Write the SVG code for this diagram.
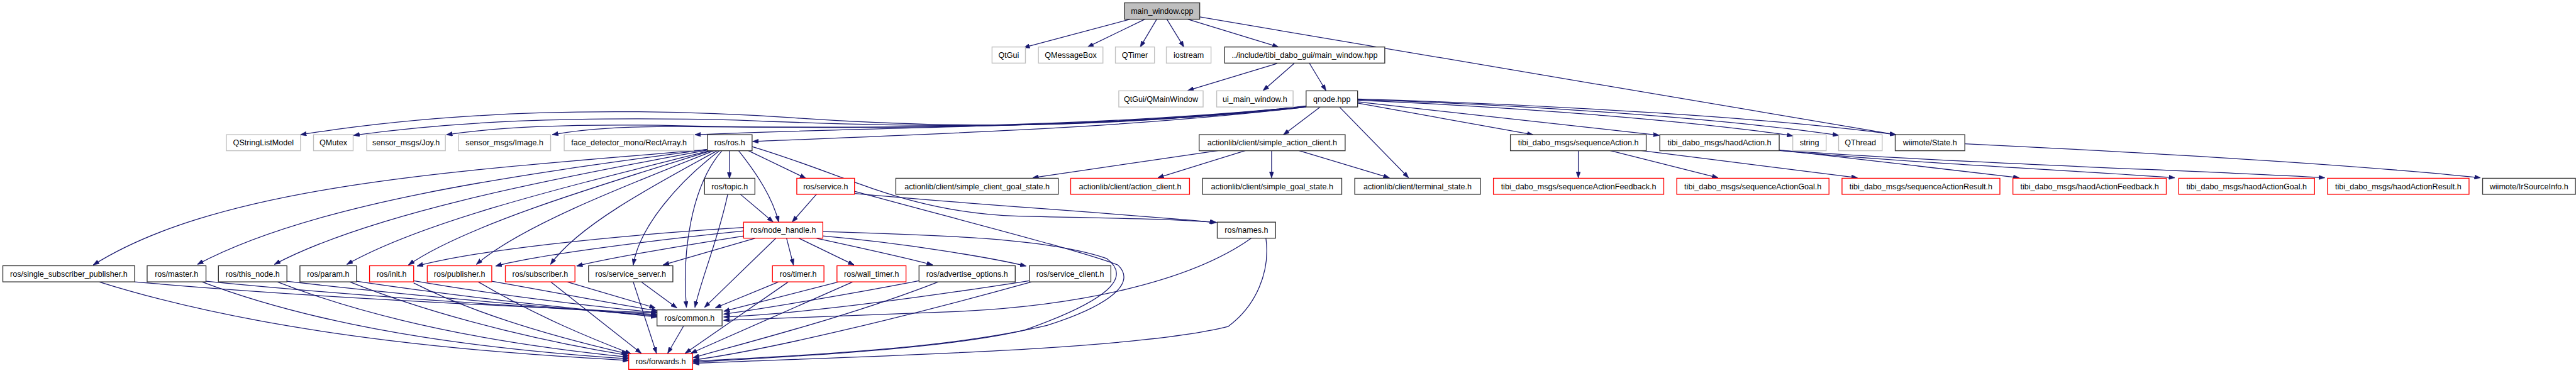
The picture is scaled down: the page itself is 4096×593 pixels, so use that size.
<svg xmlns="http://www.w3.org/2000/svg" width="4096" height="593" viewBox="0 0 4096 593">
<style>
rect{fill:#fff;stroke:#333;stroke-width:1.5}
.g rect{stroke:#bfbfbf}
.r rect{stroke:#ff0000}
.root rect{fill:#bfbfbf}
text{font-family:"Liberation Sans",Arial,sans-serif;font-size:14px;text-anchor:middle;fill:#000}
#edges path{fill:none;stroke:#191970;stroke-width:1.4;marker-end:url(#ah)}
</style>
<defs>
<marker id="ah" markerUnits="userSpaceOnUse" viewBox="0 0 11 8" markerWidth="11" markerHeight="8" refX="10.5" refY="4" orient="auto">
<path d="M0,0 L11,4 L0,8 z" fill="#191970" stroke="#191970" stroke-width="0.5"/>
</marker>
</defs>
<rect x="0" y="0" width="4096" height="593" style="fill:#fff;stroke:none"/>
<g transform="scale(0.89982)">
<g id="edges">
<path d="M1997,34 L1809,84"/>
<path d="M2023,34 L1922,83"/>
<path d="M2044,34 L2015,83"/>
<path d="M2062,34 L2092,83"/>
<path d="M2099,34 L2259,83"/>
<path d="M2120,30 L3350,238"/>
<path d="M2257,112 L2099,160"/>
<path d="M2287,112 L2232,160"/>
<path d="M2314,112 L2343,160"/>
<path d="M2333,189 L2268,238"/>
<path d="M2367,189 L2489,314"/>
<path d="M2399,182 L2709,238"/>
<path d="M2399,180 L2932,239"/>
<path d="M2399,177 C2700,190 3000,215 3168,240"/>
<path d="M2399,176 C2700,185 3050,210 3249,239"/>
<path d="M2399,175 C2750,185 3150,210 3350,238"/>
<path d="M2308,187 C1900,235 1600,222 1400,208 C1100,188 800,195 531,238"/>
<path d="M2308,188 C1900,232 1600,225 1300,212 C1000,205 800,215 625,239"/>
<path d="M2308,188 C1900,230 1500,228 1200,222 C1000,218 880,225 789,238"/>
<path d="M2308,188 C1900,228 1500,226 1250,224 C1100,222 1030,228 976,238"/>
<path d="M2308,189 C2000,225 1600,222 1228,238"/>
<path d="M2308,189 C2000,225 1700,235 1330,250"/>
<path d="M2153,266 L1825,314"/>
<path d="M2201,266 L2046,314"/>
<path d="M2247,266 L2247,314"/>
<path d="M2295,266 L2455,314"/>
<path d="M2789,266 L2789,314"/>
<path d="M2845,266 L3036,314"/>
<path d="M2900,266 L3282,314"/>
<path d="M3144,265 L3568,314"/>
<path d="M3144,266 C3400,290 3650,300 3843,314"/>
<path d="M3150,266 C3500,290 3850,300 4108,314"/>
<path d="M3472,254 C3800,270 4150,290 4383,314"/>
<path d="M1250,264 C850,300 400,320 165,468"/>
<path d="M1250,264 C900,310 550,360 349,467"/>
<path d="M1252,265 C950,320 650,380 485,467"/>
<path d="M1255,266 C1000,330 750,390 613,467"/>
<path d="M1258,266 C1050,330 820,400 722,468"/>
<path d="M1262,266 C1100,330 920,400 842,467"/>
<path d="M1268,266 C1150,330 1020,400 973,467"/>
<path d="M1272,266 C1200,320 1130,400 1119,468"/>
<path d="M1276,266 C1220,330 1205,450 1213,543"/>
<path d="M1289,266 L1289,315"/>
<path d="M1305,266 C1340,310 1365,350 1376,392"/>
<path d="M1322,266 L1424,315"/>
<path d="M1329,259 C1500,310 1600,375 1800,382 C1950,386 2050,385 2150,393"/>
<path d="M1286,343 C1270,420 1240,490 1228,543"/>
<path d="M1308,343 L1366,392"/>
<path d="M1443,343 L1400,392"/>
<path d="M1511,342 C1700,360 1950,375 2148,393"/>
<path d="M1510,338 C1700,390 1900,440 1975,468 C2010,500 1960,540 1850,575 C1700,610 1500,625 1225,638"/>
<path d="M1314,402 C1100,415 850,440 737,470"/>
<path d="M1314,408 C1150,425 950,450 876,470"/>
<path d="M1320,416 C1200,435 1080,455 1019,470"/>
<path d="M1334,421 L1172,468"/>
<path d="M1371,421 L1245,543"/>
<path d="M1390,421 L1402,468"/>
<path d="M1412,421 L1509,468"/>
<path d="M1443,421 C1530,440 1600,455 1648,468"/>
<path d="M1454,417 C1600,430 1750,455 1813,470"/>
<path d="M1454,409 C1650,415 1850,420 1956,457 C2000,490 1960,530 1811,583 C1700,610 1500,625 1225,640"/>
<path d="M2211,421 C2100,500 1900,540 1700,550 C1500,558 1350,562 1279,566"/>
<path d="M2237,421 C2245,480 2220,540 2170,577 C2000,620 1500,630 1225,642"/>
<path d="M238,498 C600,530 1000,545 1161,553"/>
<path d="M175,498 C500,600 900,625 1111,637"/>
<path d="M364,497 C700,530 1000,545 1161,556"/>
<path d="M357,498 C600,590 900,620 1111,634"/>
<path d="M506,497 C800,530 1000,545 1161,558"/>
<path d="M490,498 C700,580 950,615 1111,631"/>
<path d="M630,497 C850,530 1050,548 1161,560"/>
<path d="M618,498 C800,570 1000,610 1111,628"/>
<path d="M731,496 C900,525 1080,545 1162,552"/>
<path d="M731,500 C850,560 1000,600 1109,625"/>
<path d="M869,497 C1000,520 1100,540 1162,549"/>
<path d="M845,498 C950,560 1050,600 1115,625"/>
<path d="M1002,498 L1158,544"/>
<path d="M973,498 L1133,624"/>
<path d="M1133,498 L1196,544"/>
<path d="M1119,498 L1160,624"/>
<path d="M1376,498 L1264,544"/>
<path d="M1393,498 L1211,624"/>
<path d="M1482,498 L1279,550"/>
<path d="M1507,498 L1221,624"/>
<path d="M1624,496 C1500,520 1350,545 1279,555"/>
<path d="M1658,498 C1500,560 1300,610 1225,632"/>
<path d="M1819,496 C1600,530 1400,555 1279,560"/>
<path d="M1823,498 C1600,560 1350,620 1225,636"/>
<path d="M1208,576 L1180,624"/>
</g>
<g id="n_main_window_cpp" class="root"><rect x="1987" y="5" width="133" height="29"/><text x="2053.5" y="25">main_window.cpp</text></g>
<g id="n_QtGui" class="g"><rect x="1753" y="83" width="59" height="28.5"/><text x="1782.5" y="102">QtGui</text></g>
<g id="n_QMessageBox" class="g"><rect x="1835" y="83" width="114" height="28.5"/><text x="1892" y="102">QMessageBox</text></g>
<g id="n_QTimer" class="g"><rect x="1971" y="83" width="69" height="28.5"/><text x="2005.5" y="102">QTimer</text></g>
<g id="n_iostream" class="g"><rect x="2061" y="83" width="79" height="28.5"/><text x="2100.5" y="102">iostream</text></g>
<g id="n_main_window_hpp"><rect x="2164" y="83" width="283" height="28.5"/><text x="2305.5" y="102">../include/tibi_dabo_gui/main_window.hpp</text></g>
<g id="n_QMainWindow" class="g"><rect x="1977" y="160.5" width="149" height="28.5"/><text x="2051.5" y="179.5">QtGui/QMainWindow</text></g>
<g id="n_ui_main_window" class="g"><rect x="2150" y="160.5" width="135" height="28.5"/><text x="2217.5" y="179.5">ui_main_window.h</text></g>
<g id="n_qnode"><rect x="2308" y="160.5" width="91" height="28.5"/><text x="2353.5" y="179.5">qnode.hpp</text></g>
<g id="n_QStringListModel" class="g"><rect x="400" y="238" width="131" height="28.3"/><text x="465.5" y="257">QStringListModel</text></g>
<g id="n_QMutex" class="g"><rect x="554" y="238" width="70" height="28.3"/><text x="589" y="257">QMutex</text></g>
<g id="n_joy" class="g"><rect x="648" y="238" width="139" height="28.3"/><text x="717.5" y="257">sensor_msgs/Joy.h</text></g>
<g id="n_image" class="g"><rect x="810" y="238" width="163" height="28.3"/><text x="891.5" y="257">sensor_msgs/Image.h</text></g>
<g id="n_rectarray" class="g"><rect x="997" y="238" width="229" height="28.3"/><text x="1111.5" y="257">face_detector_mono/RectArray.h</text></g>
<g id="n_ros_ros"><rect x="1250" y="238" width="79" height="28.3"/><text x="1289.5" y="257">ros/ros.h</text></g>
<g id="n_simple_action_client"><rect x="2119" y="238" width="258" height="28.3"/><text x="2248" y="257">actionlib/client/simple_action_client.h</text></g>
<g id="n_sequenceAction"><rect x="2669" y="238" width="240" height="28.3"/><text x="2789" y="257">tibi_dabo_msgs/sequenceAction.h</text></g>
<g id="n_haodAction"><rect x="2933" y="238" width="211" height="28.3"/><text x="3038.5" y="257">tibi_dabo_msgs/haodAction.h</text></g>
<g id="n_string" class="g"><rect x="3168" y="238" width="59" height="28.3"/><text x="3197.5" y="257">string</text></g>
<g id="n_QThread" class="g"><rect x="3249" y="238" width="77" height="28.3"/><text x="3287.5" y="257">QThread</text></g>
<g id="n_wiimote_state"><rect x="3349" y="238" width="123" height="28.3"/><text x="3410.5" y="257">wiimote/State.h</text></g>
<g id="n_ros_topic"><rect x="1245" y="315" width="89" height="28.3"/><text x="1289.5" y="334">ros/topic.h</text></g>
<g id="n_ros_service" class="r"><rect x="1408" y="315" width="102" height="28.3"/><text x="1459" y="334">ros/service.h</text></g>
<g id="n_simple_client_goal_state"><rect x="1583" y="315" width="287" height="28.3"/><text x="1726.5" y="334">actionlib/client/simple_client_goal_state.h</text></g>
<g id="n_action_client" class="r"><rect x="1892" y="315" width="210" height="28.3"/><text x="1997" y="334">actionlib/client/action_client.h</text></g>
<g id="n_simple_goal_state"><rect x="2125" y="315" width="246" height="28.3"/><text x="2248" y="334">actionlib/client/simple_goal_state.h</text></g>
<g id="n_terminal_state"><rect x="2394" y="315" width="222" height="28.3"/><text x="2505" y="334">actionlib/client/terminal_state.h</text></g>
<g id="n_seqFeedback" class="r"><rect x="2639" y="315" width="301" height="28.3"/><text x="2789.5" y="334">tibi_dabo_msgs/sequenceActionFeedback.h</text></g>
<g id="n_seqGoal" class="r"><rect x="2963" y="315" width="269" height="28.3"/><text x="3097.5" y="334">tibi_dabo_msgs/sequenceActionGoal.h</text></g>
<g id="n_seqResult" class="r"><rect x="3255" y="315" width="279" height="28.3"/><text x="3394.5" y="334">tibi_dabo_msgs/sequenceActionResult.h</text></g>
<g id="n_haodFeedback" class="r"><rect x="3557" y="315" width="271" height="28.3"/><text x="3692.5" y="334">tibi_dabo_msgs/haodActionFeedback.h</text></g>
<g id="n_haodGoal" class="r"><rect x="3850" y="315" width="240" height="28.3"/><text x="3970" y="334">tibi_dabo_msgs/haodActionGoal.h</text></g>
<g id="n_haodResult" class="r"><rect x="4113" y="315" width="250" height="28.3"/><text x="4238" y="334">tibi_dabo_msgs/haodActionResult.h</text></g>
<g id="n_irsource"><rect x="4387" y="315" width="164" height="28.3"/><text x="4469" y="334">wiimote/IrSourceInfo.h</text></g>
<g id="n_node_handle" class="r"><rect x="1314" y="392.5" width="140" height="28.3"/><text x="1384" y="411.5">ros/node_handle.h</text></g>
<g id="n_names"><rect x="2151" y="392.5" width="103" height="28.3"/><text x="2202.5" y="411.5">ros/names.h</text></g>
<g id="n_single_sub_pub"><rect x="5" y="469.5" width="233" height="28.5"/><text x="121.5" y="488.5">ros/single_subscriber_publisher.h</text></g>
<g id="n_master"><rect x="260" y="469.5" width="104" height="28.5"/><text x="312" y="488.5">ros/master.h</text></g>
<g id="n_this_node"><rect x="386" y="469.5" width="121" height="28.5"/><text x="446.5" y="488.5">ros/this_node.h</text></g>
<g id="n_param"><rect x="530" y="469.5" width="100" height="28.5"/><text x="580" y="488.5">ros/param.h</text></g>
<g id="n_init" class="r"><rect x="653" y="469.5" width="78" height="28.5"/><text x="692" y="488.5">ros/init.h</text></g>
<g id="n_publisher" class="r"><rect x="755" y="469.5" width="114" height="28.5"/><text x="812" y="488.5">ros/publisher.h</text></g>
<g id="n_subscriber" class="r"><rect x="893" y="469.5" width="123" height="28.5"/><text x="954.5" y="488.5">ros/subscriber.h</text></g>
<g id="n_service_server"><rect x="1040" y="469.5" width="149" height="28.5"/><text x="1114.5" y="488.5">ros/service_server.h</text></g>
<g id="n_timer" class="r"><rect x="1365" y="469.5" width="91" height="28.5"/><text x="1410.5" y="488.5">ros/timer.h</text></g>
<g id="n_wall_timer" class="r"><rect x="1479" y="469.5" width="122" height="28.5"/><text x="1540" y="488.5">ros/wall_timer.h</text></g>
<g id="n_advertise_options"><rect x="1624" y="469.5" width="170" height="28.5"/><text x="1709" y="488.5">ros/advertise_options.h</text></g>
<g id="n_service_client"><rect x="1819" y="469.5" width="144" height="28.5"/><text x="1891" y="488.5">ros/service_client.h</text></g>
<g id="n_common"><rect x="1161" y="547.5" width="115" height="28.3"/><text x="1218.5" y="566.5">ros/common.h</text></g>
<g id="n_forwards" class="r"><rect x="1111" y="625" width="113" height="27.7"/><text x="1167.5" y="643.8">ros/forwards.h</text></g>
</g>
</svg>
